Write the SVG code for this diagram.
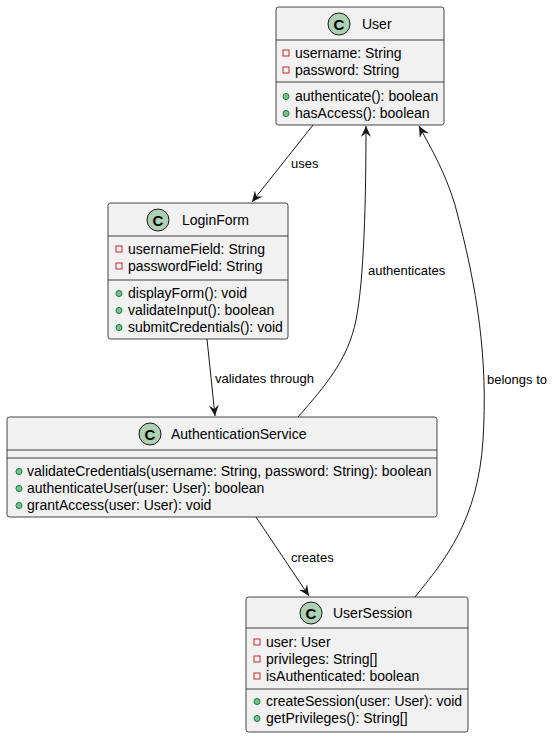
<svg xmlns="http://www.w3.org/2000/svg" width="553" height="738" viewBox="0 0 553 738">
<defs>
<style>
.box{fill:#F1F1F1;stroke:#181818;stroke-width:0.8}
.sep{stroke:#181818;stroke-width:0.8}
.t{font-family:"Liberation Sans",Arial,sans-serif;font-size:14px;fill:#000}
.lbl{font-family:"Liberation Sans",Arial,sans-serif;font-size:13px;fill:#000}
.ci{fill:#ADD1B2;stroke:#181818;stroke-width:1}
.cl{font-family:"Liberation Sans",Arial,sans-serif;font-size:15px;font-weight:bold;fill:#000}
.priv{fill:none;stroke:#C82930;stroke-width:1}
.pub{fill:#84BE84;stroke:#038048;stroke-width:1}
.edge{fill:none;stroke:#181818;stroke-width:1}
</style>
<marker id="arr" viewBox="0 0 12 10" refX="11" refY="5" markerWidth="12" markerHeight="10" markerUnits="userSpaceOnUse" orient="auto">
<path d="M0,0 L11,5 L0,10 L4,5 Z" fill="#181818"/>
</marker>
</defs>

<g id="connectors">
<path class="edge" d="M313,125 L252,202" marker-end="url(#arr)"/>
<text class="lbl" x="291" y="168">uses</text>
<path class="edge" d="M207,339 L215,416" marker-end="url(#arr)"/>
<text class="lbl" x="215" y="383">validates through</text>
<path class="edge" d="M298,417 C325,386 348,360 356,320 C364,280 366,200 366,126" marker-end="url(#arr)"/>
<text class="lbl" x="368" y="275">authenticates</text>
<path class="edge" d="M415,597 C445,560 478,520 483,440 C488,360 478,290 455,205 C445,172 432,150 419,126" marker-end="url(#arr)"/>
<text class="lbl" x="487" y="384">belongs to</text>
<path class="edge" d="M256,517 L309,596" marker-end="url(#arr)"/>
<text class="lbl" x="291" y="562">creates</text>
</g>

<g id="User">
<rect class="box" x="276" y="7" width="168" height="118" rx="2.5"/>
<circle class="ci" cx="339" cy="24" r="11"/>
<text class="cl" x="339" y="29.5" text-anchor="middle">C</text>
<text class="t" x="362" y="29">User</text>
<line class="sep" x1="276" y1="40" x2="444" y2="40"/>
<rect class="priv" x="283" y="50" width="6" height="6"/>
<text class="t" x="295" y="58">username: String</text>
<rect class="priv" x="283" y="67" width="6" height="6"/>
<text class="t" x="295" y="75">password: String</text>
<line class="sep" x1="276" y1="82" x2="444" y2="82"/>
<circle class="pub" cx="286" cy="96.5" r="3"/>
<text class="t" x="295" y="101">authenticate(): boolean</text>
<circle class="pub" cx="286" cy="113.5" r="3"/>
<text class="t" x="295" y="118">hasAccess(): boolean</text>
</g>

<g id="LoginForm">
<rect class="box" x="108" y="203" width="180" height="136" rx="2.5"/>
<circle class="ci" cx="158" cy="220" r="11"/>
<text class="cl" x="158" y="225.5" text-anchor="middle">C</text>
<text class="t" x="182" y="225">LoginForm</text>
<line class="sep" x1="108" y1="236" x2="288" y2="236"/>
<rect class="priv" x="116" y="246" width="6" height="6"/>
<text class="t" x="128" y="254">usernameField: String</text>
<rect class="priv" x="116" y="263" width="6" height="6"/>
<text class="t" x="128" y="271">passwordField: String</text>
<line class="sep" x1="108" y1="280" x2="288" y2="280"/>
<circle class="pub" cx="119" cy="293.5" r="3"/>
<text class="t" x="128" y="298">displayForm(): void</text>
<circle class="pub" cx="119" cy="310.5" r="3"/>
<text class="t" x="128" y="315">validateInput(): boolean</text>
<circle class="pub" cx="119" cy="327.5" r="3"/>
<text class="t" x="128" y="332">submitCredentials(): void</text>
</g>

<g id="AuthenticationService">
<rect class="box" x="7" y="417" width="430" height="100" rx="2.5"/>
<circle class="ci" cx="150" cy="434" r="11"/>
<text class="cl" x="150" y="439.5" text-anchor="middle">C</text>
<text class="t" x="171" y="439">AuthenticationService</text>
<line class="sep" x1="7" y1="450" x2="437" y2="450"/>
<line class="sep" x1="7" y1="458" x2="437" y2="458"/>
<circle class="pub" cx="19" cy="471.5" r="3"/>
<text class="t" x="27" y="476">validateCredentials(username: String, password: String): boolean</text>
<circle class="pub" cx="19" cy="488.5" r="3"/>
<text class="t" x="27" y="493">authenticateUser(user: User): boolean</text>
<circle class="pub" cx="19" cy="505.5" r="3"/>
<text class="t" x="27" y="510">grantAccess(user: User): void</text>
</g>

<g id="UserSession">
<rect class="box" x="246" y="597" width="222" height="135" rx="2.5"/>
<circle class="ci" cx="311" cy="613" r="11"/>
<text class="cl" x="311" y="618.5" text-anchor="middle">C</text>
<text class="t" x="333" y="618">UserSession</text>
<line class="sep" x1="246" y1="628" x2="468" y2="628"/>
<rect class="priv" x="254" y="639" width="6" height="6"/>
<text class="t" x="266" y="647">user: User</text>
<rect class="priv" x="254" y="656" width="6" height="6"/>
<text class="t" x="266" y="664">privileges: String[]</text>
<rect class="priv" x="254" y="673" width="6" height="6"/>
<text class="t" x="266" y="681">isAuthenticated: boolean</text>
<line class="sep" x1="246" y1="689" x2="468" y2="689"/>
<circle class="pub" cx="257" cy="701.5" r="3"/>
<text class="t" x="266" y="706">createSession(user: User): void</text>
<circle class="pub" cx="257" cy="718.5" r="3"/>
<text class="t" x="266" y="723">getPrivileges(): String[]</text>
</g>
</svg>
